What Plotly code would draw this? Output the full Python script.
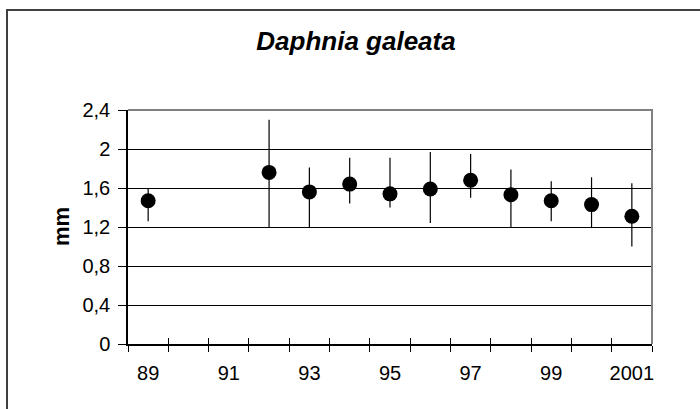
import plotly.graph_objects as go

# ---- data ----
years = ["89", "90", "91", "92", "93", "94", "95", "96", "97", "98", "99", "2000", "2001"]
mean_mm = [1.47, None, None, 1.76, 1.56, 1.64, 1.54, 1.59, 1.68, 1.53, 1.47, 1.43, 1.31]
upper_mm = [1.60, None, None, 2.30, 1.81, 1.91, 1.91, 1.97, 1.95, 1.79, 1.67, 1.71, 1.65]
lower_mm = [1.26, None, None, 1.20, 1.20, 1.44, 1.40, 1.24, 1.50, 1.20, 1.26, 1.20, 1.00]
y_ticks = [0, 0.4, 0.8, 1.2, 1.6, 2.0, 2.4]

err_plus = [None if m is None else round(u - m, 4) for m, u in zip(mean_mm, upper_mm)]
err_minus = [None if m is None else round(m - l, 4) for m, l in zip(mean_mm, lower_mm)]

FONT = "Liberation Sans, Arial, sans-serif"

fig = go.Figure()
fig.add_trace(go.Scatter(
    x=years, y=mean_mm, mode="markers",
    marker=dict(size=15, color="black"),
    error_y=dict(type="data", symmetric=False, array=err_plus, arrayminus=err_minus,
                 color="black", thickness=1.2, width=0),
    showlegend=False,
))
# invisible trace to carry the inner-tick overlay axis
fig.add_trace(go.Scatter(
    x=years, y=[0] * len(years), xaxis="x2", mode="markers",
    marker=dict(opacity=0), hoverinfo="skip", showlegend=False,
))

L, R, T, B = 128, 48, 110, 65
W, H = 700, 409
pw, ph = W - L - R, H - T - B

fig.update_layout(
    width=W, height=H,
    margin=dict(l=L, r=R, t=T, b=B),
    paper_bgcolor="white", plot_bgcolor="white",
    separators=", ",
    font=dict(family=FONT, size=20, color="black"),
    title=dict(text="<b><i>Daphnia galeata</i></b>", font=dict(family=FONT, size=26, color="black"),
               x=356 / W, xanchor="center", xref="container",
               y=1 - 41 / H, yanchor="middle", yref="container"),
    xaxis=dict(type="category", categoryorder="array", categoryarray=years,
               range=[-0.5, len(years) - 0.5], tickson="boundaries",
               ticks="outside", ticklen=6, tickwidth=1, tickcolor="black",
               ticklabelstep=2, ticklabelstandoff=10, tickangle=0,
               showline=True, linecolor="black", linewidth=1.5,
               showgrid=False, zeroline=False,
               tickfont=dict(family=FONT, size=20)),
    xaxis2=dict(type="category", categoryorder="array", categoryarray=years,
                range=[-0.5, len(years) - 0.5], tickson="boundaries",
                overlaying="x", anchor="y", side="bottom",
                ticks="inside", ticklen=6, tickwidth=1, tickcolor="black",
                showticklabels=False, showline=False, showgrid=False, zeroline=False),
    yaxis=dict(range=[0, 2.4], tickvals=y_ticks,
               ticks="outside", ticklen=8, tickwidth=1, tickcolor="black",
               ticklabelstandoff=4,
               showline=True, linecolor="black", linewidth=1.5,
               showgrid=True, gridcolor="black", gridwidth=1, zeroline=False,
               tickfont=dict(family=FONT, size=20)),
    shapes=[
        # gray top/right plot-area border
        dict(type="path", xref="paper", yref="paper",
             path="M 0,1 L 1,1 L 1,0", line=dict(color="#808080", width=2), layer="above"),
        # outer chart frame (clipped at window edge)
        dict(type="rect", xref="paper", yref="paper",
             x0=(7 - L) / pw, x1=(W + 20 - L) / pw,
             y0=-(H + 20 - (H - B)) / ph, y1=(H - B - 10) / ph,
             line=dict(color="#404040", width=2), layer="below"),
    ],
    annotations=[
        dict(text="<b>mm</b>", xref="paper", yref="paper",
             x=(61 - L) / pw, y=0.5, xanchor="center", yanchor="middle",
             textangle=-90, showarrow=False, font=dict(family=FONT, size=22, color="black")),
    ],
)

fig.write_html("out.html")
